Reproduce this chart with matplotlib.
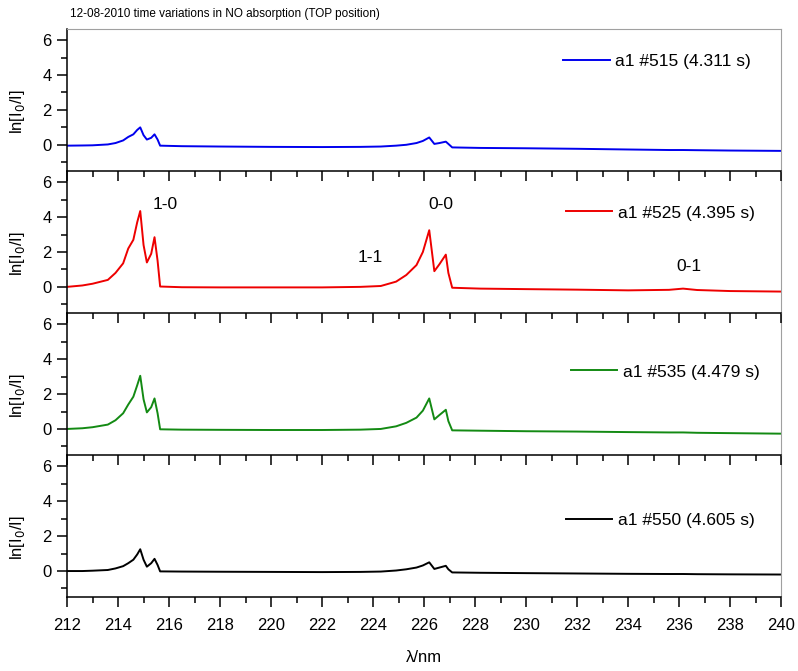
import matplotlib
matplotlib.use("Agg")
import matplotlib.pyplot as plt
from matplotlib.ticker import MultipleLocator

plt.rcParams['font.family'] = ['Liberation Sans', 'DejaVu Sans']

# wavelength points (nm)
wavelength = [212.0, 212.6, 213.0, 213.6, 213.9, 214.2, 214.4, 214.6, 214.75, 214.87,
              215.0, 215.13, 215.3, 215.43, 215.55, 215.65, 216.5, 218, 220, 222,
              223.5, 224.3, 224.9, 225.3, 225.7, 225.95, 226.2, 226.4, 226.6, 226.85,
              226.95, 227.1, 228.2, 230, 232, 234, 235.6, 236.15, 236.7, 238, 240]

absorb_515 = [-0.05, -0.04, -0.03, 0.02, 0.1, 0.25, 0.45, 0.6, 0.85, 1.0,
              0.55, 0.3, 0.4, 0.6, 0.3, -0.05, -0.08, -0.1, -0.12, -0.13,
              -0.12, -0.1, -0.05, 0.0, 0.1, 0.22, 0.42, 0.05, 0.1, 0.18,
              0.05, -0.15, -0.18, -0.2, -0.23, -0.27, -0.3, -0.3, -0.31, -0.33, -0.35]

absorb_525 = [0.0, 0.08, 0.18, 0.4, 0.8, 1.35, 2.2, 2.7, 3.7, 4.35,
              2.4, 1.4, 1.9, 2.85, 1.5, 0.02, -0.02, -0.03, -0.03, -0.03,
              0.0, 0.05, 0.3, 0.68, 1.25, 2.0, 3.25, 0.9, 1.3, 1.85,
              0.8, -0.05, -0.1, -0.13, -0.16, -0.2, -0.17, -0.1, -0.18, -0.24, -0.27]

absorb_535 = [0.0, 0.04, 0.1, 0.25, 0.5, 0.9, 1.4, 1.85, 2.5, 3.05,
              1.7, 0.95, 1.25, 1.75, 0.9, -0.02, -0.04, -0.05, -0.06, -0.06,
              -0.04, 0.0, 0.15, 0.35, 0.65, 1.05, 1.75, 0.55, 0.8, 1.1,
              0.45, -0.08, -0.1, -0.13, -0.15, -0.18, -0.2, -0.2, -0.22, -0.24, -0.27]

absorb_550 = [0.0, 0.0, 0.02, 0.06, 0.15, 0.28, 0.45, 0.65, 0.95, 1.25,
              0.65, 0.25, 0.45, 0.7, 0.35, -0.02, -0.03, -0.04, -0.05, -0.06,
              -0.05, -0.03, 0.03, 0.1, 0.2, 0.32, 0.5, 0.12, 0.2, 0.3,
              0.1, -0.08, -0.1, -0.12, -0.14, -0.16, -0.17, -0.17, -0.18, -0.19, -0.2]

series = [absorb_515, absorb_525, absorb_535, absorb_550]
labels = ['a1 #515 (4.311 s)', 'a1 #525 (4.395 s)', 'a1 #535 (4.479 s)', 'a1 #550 (4.605 s)']
colors = ['#0000ee', '#ee0000', '#138a13', '#000000']
legend_pos = [(0.695, 0.768), (0.698, 0.704), (0.705, 0.585), (0.698, 0.542)]

# band labels on the #525 panel
band_names = ['1-0', '0-0', '1-1', '0-1']
band_x = [215.85, 226.65, 223.9, 236.4]
band_y = [4.7, 4.7, 1.7, 1.15]

fig, axes = plt.subplots(4, 1, figsize=(7.98, 6.71), dpi=100, sharex=True)
fig.subplots_adjust(left=0.084, right=0.979, top=0.957, bottom=0.110, hspace=0)

for i, ax in enumerate(axes):
    ax.plot(wavelength, series[i], color=colors[i], lw=1.4, label=labels[i])
    ax.set_xlim(212, 240)
    ax.set_ylim(-1.5, 6.65)
    ax.xaxis.set_major_locator(MultipleLocator(2))
    ax.xaxis.set_minor_locator(MultipleLocator(1))
    ax.yaxis.set_minor_locator(MultipleLocator(1))
    ax.set_yticks([0, 2, 4, 6])
    ax.tick_params(which='major', direction='out', length=7, width=1.1, labelsize=12, pad=4)
    ax.tick_params(which='minor', direction='out', length=4.5, width=1.1)
    ax.tick_params(axis='x', which='major', pad=8)
    ax.tick_params(top=False, right=False, which='both')
    ax.spines['right'].set_color('#a0a0a0')
    ax.spines['top'].set_color('#a0a0a0')
    ax.spines['left'].set_linewidth(1.1)
    ax.spines['bottom'].set_linewidth(1.1)
    if i > 0:
        ax.spines['top'].set_visible(False)
    ax.set_ylabel('ln[I$_0$/I]', fontsize=12)
    ax.yaxis.set_label_coords(-0.056, 0.42)
    ax.legend(loc='center left', bbox_to_anchor=legend_pos[i], frameon=False,
              handlelength=2.7, handletextpad=0.3, borderpad=0, borderaxespad=0,
              fontsize=12.5)
    ax.set_zorder(len(axes) - i)
    ax.patch.set_alpha(0)

for name, bx, by in zip(band_names, band_x, band_y):
    axes[1].text(bx, by, name, fontsize=12.5, ha='center', va='center')

axes[-1].set_xlabel('λ/nm', fontsize=12, labelpad=12)

fig.text(0.088, 0.979, '12-08-2010 time variations in NO absorption (TOP position)',
         fontsize=8.5, ha='left', va='center')

plt.savefig('out.png')
